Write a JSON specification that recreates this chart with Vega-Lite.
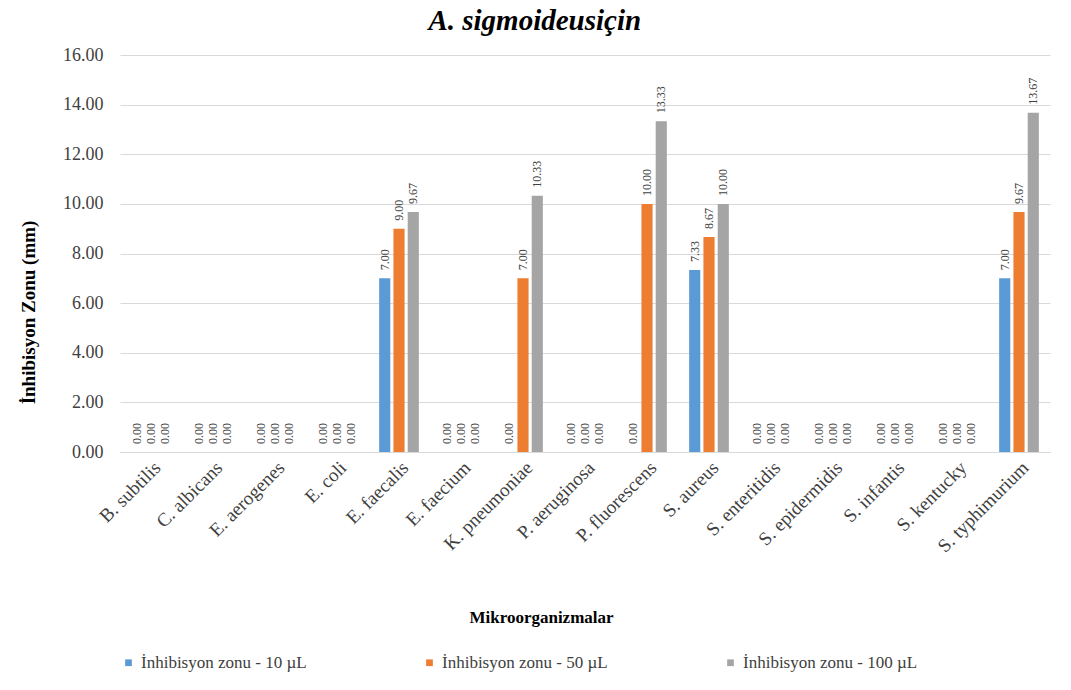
{
  "$schema": "https://vega.github.io/schema/vega-lite/v6.json",
  "width": 930,
  "height": 397,
  "autosize": {"type": "none"},
  "padding": {"left": 120, "top": 55, "right": 21, "bottom": 238},
  "background": "white",
  "title": {
    "text": "A. sigmoideusiçin",
    "font": "Liberation Serif, Times New Roman, serif",
    "fontSize": 29,
    "fontWeight": "bold",
    "fontStyle": "italic",
    "color": "#000000",
    "frame": "bounds",
    "anchor": "middle",
    "offset": 10
  },
  "config": {
    "font": "Liberation Serif, Times New Roman, serif",
    "view": {"stroke": null},
    "axis": {
      "labelFont": "Liberation Serif, Times New Roman, serif",
      "titleFont": "Liberation Serif, Times New Roman, serif",
      "labelColor": "#404040",
      "titleColor": "#000000",
      "gridColor": "#d9d9d9",
      "domainColor": "#d9d9d9",
      "ticks": false,
      "tickSize": 0
    },
    "legend": {"labelFont": "Liberation Serif, Times New Roman, serif"}
  },
  "data": {
    "values": [
      {"org": "B. subtilis", "dose": "İnhibisyon zonu  - 10 µL", "value": 0},
      {"org": "B. subtilis", "dose": "İnhibisyon zonu  - 50 µL", "value": 0},
      {"org": "B. subtilis", "dose": "İnhibisyon zonu  - 100 µL", "value": 0},
      {"org": "C. albicans", "dose": "İnhibisyon zonu  - 10 µL", "value": 0},
      {"org": "C. albicans", "dose": "İnhibisyon zonu  - 50 µL", "value": 0},
      {"org": "C. albicans", "dose": "İnhibisyon zonu  - 100 µL", "value": 0},
      {"org": "E. aerogenes", "dose": "İnhibisyon zonu  - 10 µL", "value": 0},
      {"org": "E. aerogenes", "dose": "İnhibisyon zonu  - 50 µL", "value": 0},
      {"org": "E. aerogenes", "dose": "İnhibisyon zonu  - 100 µL", "value": 0},
      {"org": "E. coli", "dose": "İnhibisyon zonu  - 10 µL", "value": 0},
      {"org": "E. coli", "dose": "İnhibisyon zonu  - 50 µL", "value": 0},
      {"org": "E. coli", "dose": "İnhibisyon zonu  - 100 µL", "value": 0},
      {"org": "E. faecalis", "dose": "İnhibisyon zonu  - 10 µL", "value": 7.00},
      {"org": "E. faecalis", "dose": "İnhibisyon zonu  - 50 µL", "value": 9.00},
      {"org": "E. faecalis", "dose": "İnhibisyon zonu  - 100 µL", "value": 9.67},
      {"org": "E. faecium", "dose": "İnhibisyon zonu  - 10 µL", "value": 0},
      {"org": "E. faecium", "dose": "İnhibisyon zonu  - 50 µL", "value": 0},
      {"org": "E. faecium", "dose": "İnhibisyon zonu  - 100 µL", "value": 0},
      {"org": "K. pneumoniae", "dose": "İnhibisyon zonu  - 10 µL", "value": 0},
      {"org": "K. pneumoniae", "dose": "İnhibisyon zonu  - 50 µL", "value": 7.00},
      {"org": "K. pneumoniae", "dose": "İnhibisyon zonu  - 100 µL", "value": 10.33},
      {"org": "P. aeruginosa", "dose": "İnhibisyon zonu  - 10 µL", "value": 0},
      {"org": "P. aeruginosa", "dose": "İnhibisyon zonu  - 50 µL", "value": 0},
      {"org": "P. aeruginosa", "dose": "İnhibisyon zonu  - 100 µL", "value": 0},
      {"org": "P. fluorescens", "dose": "İnhibisyon zonu  - 10 µL", "value": 0},
      {"org": "P. fluorescens", "dose": "İnhibisyon zonu  - 50 µL", "value": 10.00},
      {"org": "P. fluorescens", "dose": "İnhibisyon zonu  - 100 µL", "value": 13.33},
      {"org": "S. aureus", "dose": "İnhibisyon zonu  - 10 µL", "value": 7.33},
      {"org": "S. aureus", "dose": "İnhibisyon zonu  - 50 µL", "value": 8.67},
      {"org": "S. aureus", "dose": "İnhibisyon zonu  - 100 µL", "value": 10.00},
      {"org": "S. enteritidis", "dose": "İnhibisyon zonu  - 10 µL", "value": 0},
      {"org": "S. enteritidis", "dose": "İnhibisyon zonu  - 50 µL", "value": 0},
      {"org": "S. enteritidis", "dose": "İnhibisyon zonu  - 100 µL", "value": 0},
      {"org": "S. epidermidis", "dose": "İnhibisyon zonu  - 10 µL", "value": 0},
      {"org": "S. epidermidis", "dose": "İnhibisyon zonu  - 50 µL", "value": 0},
      {"org": "S. epidermidis", "dose": "İnhibisyon zonu  - 100 µL", "value": 0},
      {"org": "S. infantis", "dose": "İnhibisyon zonu  - 10 µL", "value": 0},
      {"org": "S. infantis", "dose": "İnhibisyon zonu  - 50 µL", "value": 0},
      {"org": "S. infantis", "dose": "İnhibisyon zonu  - 100 µL", "value": 0},
      {"org": "S. kentucky", "dose": "İnhibisyon zonu  - 10 µL", "value": 0},
      {"org": "S. kentucky", "dose": "İnhibisyon zonu  - 50 µL", "value": 0},
      {"org": "S. kentucky", "dose": "İnhibisyon zonu  - 100 µL", "value": 0},
      {"org": "S. typhimurium", "dose": "İnhibisyon zonu  - 10 µL", "value": 7.00},
      {"org": "S. typhimurium", "dose": "İnhibisyon zonu  - 50 µL", "value": 9.67},
      {"org": "S. typhimurium", "dose": "İnhibisyon zonu  - 100 µL", "value": 13.67}
    ]
  },
  "encoding": {
    "x": {
      "field": "org",
      "type": "nominal",
      "sort": null,
      "scale": {"paddingInner": 0.36, "paddingOuter": 0.18},
      "axis": {
        "title": "Mikroorganizmalar",
        "titleFont": "Liberation Serif, Times New Roman, serif",
        "titleFontSize": 17,
        "titleFontWeight": "bold",
        "titlePadding": 54,
        "titleX": 421,
        "labelFont": "Liberation Serif, Times New Roman, serif",
        "labelAngle": -45,
        "labelFontSize": 19,
        "labelPadding": 6,
        "labelLimit": 300,
        "grid": false
      }
    },
    "xOffset": {
      "field": "dose",
      "type": "nominal",
      "sort": ["İnhibisyon zonu  - 10 µL", "İnhibisyon zonu  - 50 µL", "İnhibisyon zonu  - 100 µL"],
      "scale": {"paddingInner": 0.22}
    },
    "y": {
      "field": "value",
      "type": "quantitative",
      "scale": {"domain": [0, 16]},
      "axis": {
        "title": "İnhibisyon Zonu (mm)",
        "titleFont": "Liberation Serif, Times New Roman, serif",
        "titleFontSize": 19,
        "titleFontWeight": "bold",
        "titlePadding": 24,
        "titleY": 257,
        "values": [0, 2, 4, 6, 8, 10, 12, 14, 16],
        "format": ".2f",
        "labelFont": "Liberation Serif, Times New Roman, serif",
        "labelFontSize": 18,
        "labelPadding": 17,
        "domain": false
      }
    },
    "color": {
      "field": "dose",
      "type": "nominal",
      "sort": ["İnhibisyon zonu  - 10 µL", "İnhibisyon zonu  - 50 µL", "İnhibisyon zonu  - 100 µL"],
      "scale": {"range": ["#5B9BD5", "#ED7D31", "#A5A5A5"]},
      "legend": {
        "title": null,
        "orient": "bottom",
        "direction": "horizontal",
        "symbolType": "square",
        "symbolSize": 45,
        "labelFont": "Liberation Serif, Times New Roman, serif",
        "labelFontSize": 17,
        "labelLimit": 400,
        "labelColor": "#404040",
        "columnPadding": 110,
        "offset": 28
      }
    }
  },
  "layer": [
    {"mark": {"type": "bar"}},
    {
      "mark": {
        "type": "text",
        "angle": 270,
        "align": "left",
        "baseline": "middle",
        "dx": 8,
        "fontSize": 12,
        "color": "#404040",
        "font": "Liberation Serif, Times New Roman, serif"
      },
      "encoding": {
        "text": {"field": "value", "type": "quantitative", "format": ".2f"},
        "color": {"value": "#404040"}
      }
    }
  ]
}
